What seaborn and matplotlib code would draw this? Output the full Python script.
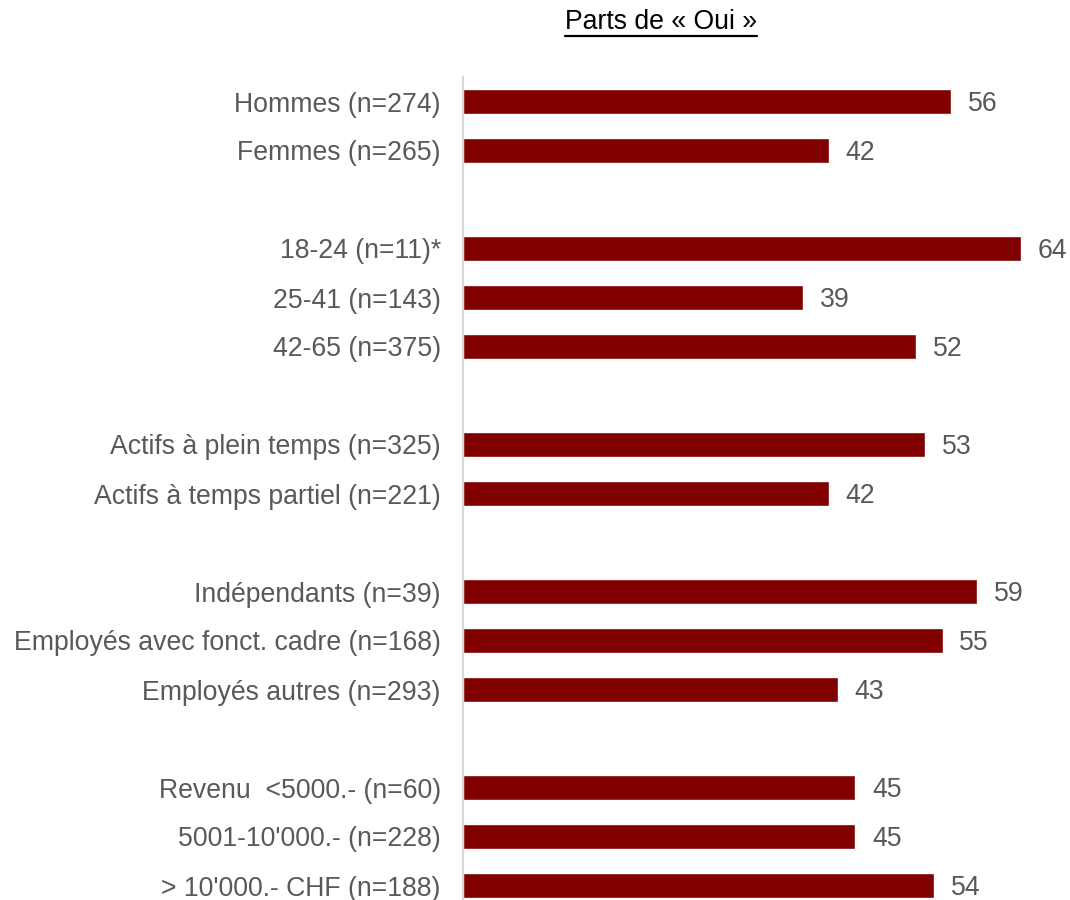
import matplotlib
matplotlib.use("Agg")
import matplotlib.pyplot as plt
import seaborn as sns
import pandas as pd
from matplotlib.lines import Line2D

categories = [
    "Hommes (n=274)",
    "Femmes (n=265)",
    "18-24 (n=11)*",
    "25-41 (n=143)",
    "42-65 (n=375)",
    "Actifs à plein temps (n=325)",
    "Actifs à temps partiel (n=221)",
    "Indépendants (n=39)",
    "Employés avec fonct. cadre (n=168)",
    "Employés autres (n=293)",
    "Revenu  <5000.- (n=60)",
    "5001-10'000.- (n=228)",
    "> 10'000.- CHF (n=188)",
]
values = [56, 42, 64, 39, 52, 53, 42, 59, 55, 43, 45, 45, 54]
# group of each row; one blank slot separates consecutive groups
groups = [0, 0, 1, 1, 1, 2, 2, 3, 3, 3, 4, 4, 4]
title = "Parts de « Oui »"

positions = [i + g for i, g in enumerate(groups)]
df = pd.DataFrame({"label": categories, "value": values, "pos": positions})

sns.set_theme(style="white")
plt.rcParams["font.family"] = ["Liberation Sans", "DejaVu Sans"]

BAR = "#800000"
TEXT = "#595959"
FS = 19.2

fig = plt.figure(figsize=(10.7, 9), dpi=100)
ax_left = 463 / 1070
ax_right = 1060 / 1070
top_px, slot_px = 77, 49
n_slots = max(positions) + 1
bottom_px = top_px + n_slots * slot_px
ax = fig.add_axes([ax_left, 1 - bottom_px / 900, ax_right - ax_left, (bottom_px - top_px) / 900])

sns.barplot(data=df, x="value", y="pos", orient="h", native_scale=True,
            color=BAR, width=0.5, saturation=1, ax=ax)

px_per_unit = 558 / 64
ax.set_xlim(0, (ax_right - ax_left) * 1070 / px_per_unit)
ax.set_ylim(n_slots - 0.5, -0.5)

ax.set_yticks(positions)
ax.set_yticklabels(categories, fontsize=FS, color=TEXT)
ax.tick_params(axis="y", length=0, pad=16)
ax.set_xticks([])
ax.set_xlabel("")
ax.set_ylabel("")
for side in ["top", "right", "bottom"]:
    ax.spines[side].set_visible(False)
ax.spines["left"].set_color("#d9d9d9")
ax.spines["left"].set_linewidth(1.5)

for c in ax.containers:
    anns = ax.bar_label(c, labels=[f"{v:g}" for v in values], padding=12,
                        fontsize=FS, color=TEXT)
    for a in anns:
        a.xyann = (12, -1.5)

t = fig.text(661 / 1070, 1 - 22 / 900, title, ha="center", va="center",
             fontsize=FS, color="black")
fig.canvas.draw()
bb = t.get_window_extent()
inv = fig.transFigure.inverted()
(x0, y0), (x1, y1) = inv.transform([[bb.x0, bb.y0], [bb.x1, bb.y0]])
fig.add_artist(Line2D([x0, x1], [y0 - 1 / 900, y1 - 1 / 900],
                      transform=fig.transFigure, color="black", linewidth=1.6))

fig.savefig("out.png", dpi=100)
